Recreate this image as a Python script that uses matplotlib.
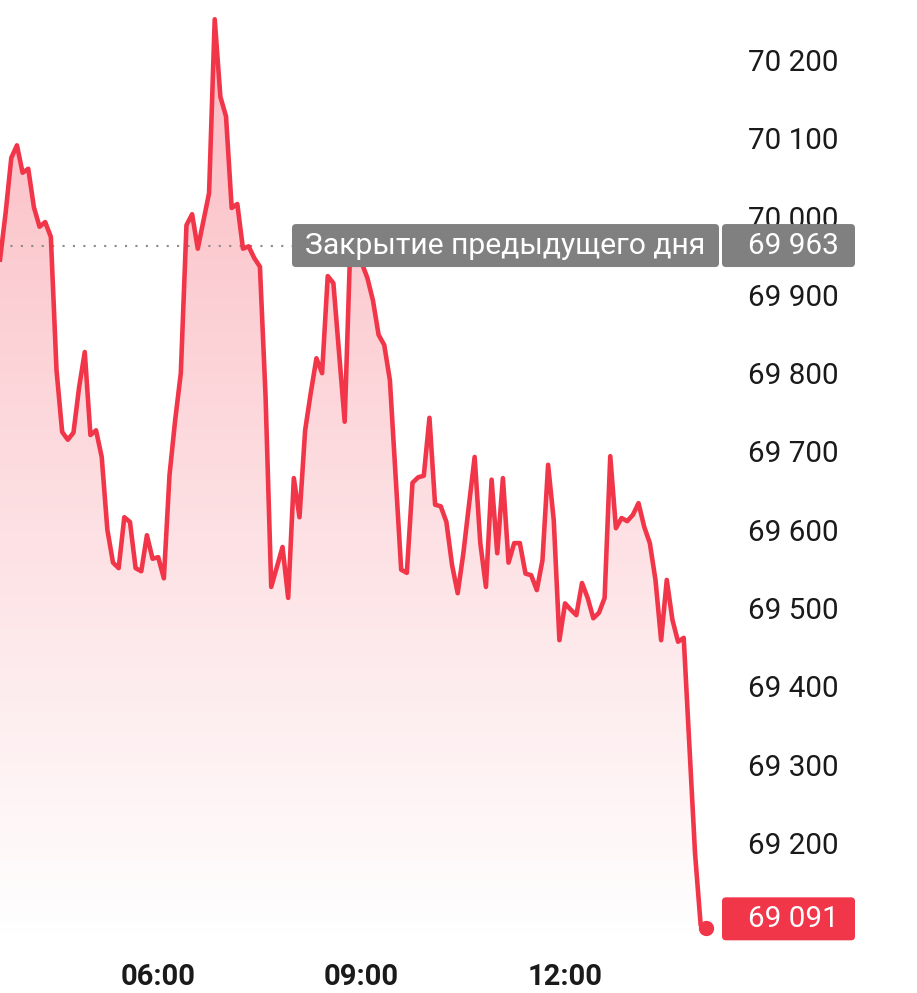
import numpy as np
import matplotlib
matplotlib.use('Agg')
import matplotlib.pyplot as plt
from matplotlib.patches import FancyBboxPatch
from matplotlib.transforms import IdentityTransform

plt.rcParams['font.family'] = ['Roboto', 'DejaVu Sans']

# intraday quotes, 5 min step
times = ['03:40', '03:45', '03:50', '03:55', '04:00', '04:05', '04:10', '04:15', '04:20', '04:25',
         '04:30', '04:35', '04:40', '04:45', '04:50', '04:55', '05:00', '05:05', '05:10', '05:15',
         '05:20', '05:25', '05:30', '05:35', '05:40', '05:45', '05:50', '05:55', '06:00', '06:05',
         '06:10', '06:15', '06:20', '06:25', '06:30', '06:35', '06:45', '06:50', '06:55', '07:00',
         '07:05', '07:10', '07:15', '07:20', '07:25', '07:30', '07:35', '07:40', '07:50', '07:55',
         '08:00', '08:05', '08:10', '08:15', '08:20', '08:25', '08:30', '08:35', '08:45', '08:50',
         '09:00', '09:05', '09:10', '09:15', '09:20', '09:25', '09:35', '09:40', '09:45', '09:50',
         '09:55', '10:00', '10:05', '10:10', '10:15', '10:20', '10:25', '10:30', '10:35', '10:40',
         '10:45', '10:50', '10:55', '11:00', '11:05', '11:10', '11:15', '11:20', '11:25', '11:30',
         '11:35', '11:40', '11:45', '11:50', '11:55', '12:00', '12:05', '12:10', '12:15', '12:20',
         '12:25', '12:30', '12:35', '12:40', '12:45', '12:50', '12:55', '13:00', '13:05', '13:10',
         '13:15', '13:20', '13:25', '13:30', '13:35', '13:40', '13:45', '13:55', '14:00', '14:05']
prices = [69945, 70005, 70075, 70091, 70056, 70061, 70012, 69987, 69993, 69974,
          69804, 69725, 69715, 69724, 69782, 69827, 69721, 69727, 69693, 69600,
          69558, 69551, 69616, 69610, 69551, 69547, 69593, 69563, 69565, 69538,
          69670, 69740, 69800, 69989, 70003, 69959, 70030, 70252, 70153, 70128,
          70011, 70016, 69959, 69962, 69947, 69936, 69770, 69527, 69578, 69513,
          69666, 69616, 69727, 69775, 69819, 69800, 69924, 69915, 69738, 69965,
          69941, 69922, 69893, 69849, 69836, 69791, 69549, 69545, 69660, 69667,
          69669, 69743, 69632, 69630, 69610, 69555, 69519, 69570, 69632, 69693,
          69583, 69527, 69664, 69570, 69666, 69558, 69583, 69583, 69544, 69542,
          69523, 69561, 69683, 69612, 69459, 69506, 69498, 69491, 69532, 69513,
          69487, 69494, 69513, 69694, 69602, 69615, 69611, 69619, 69634, 69604,
          69583, 69536, 69459, 69536, 69485, 69457, 69462, 69187, 69095, 69091]
prev_close = 69963
last_price = 69091
close_label = 'Закрытие предыдущего дня'
ytick_vals = [69200, 69300, 69400, 69500, 69600, 69700, 69800, 69900, 70000, 70100, 70200]
xtick_hours = [6, 9, 12]

red = '#f2364a'
grey = '#808080'
W, H = 917, 993


def to_hours(s):
    h, m = s.split(':')
    return int(h) + int(m) / 60


def fmt(v):
    return f'{v:,}'.replace(',', ' ')


x = np.array([to_hours(t) for t in times])
y = np.array(prices, dtype=float)

fig = plt.figure(figsize=(W / 100, H / 100), dpi=100)
ax = fig.add_axes([0, 48 / H, 720 / W, 945 / H])
ax.set_xlim(3.6667, 14.285)
ax.set_ylim(69069.7, 70276.6)
for s in ax.spines.values():
    s.set_visible(False)

# gradient fill under the line
poly = ax.fill_between(x, y, ax.get_ylim()[0], facecolor='none', edgecolor='none')
grad = np.zeros((256, 1, 4))
grad[:, 0, :3] = matplotlib.colors.to_rgb(red)
grad[:, 0, 3] = np.linspace(0.35, 0.0, 256)
im = ax.imshow(grad, extent=[*ax.get_xlim(), *ax.get_ylim()], aspect='auto',
               origin='upper', zorder=1)
im.set_clip_path(poly.get_paths()[0], transform=ax.transData)

ax.plot(x, y, color=red, lw=3.3, solid_joinstyle='round', zorder=3)
ax.plot(x[-1], y[-1], 'o', color=red, ms=10, zorder=4)

# previous close dotted line
ax.plot([ax.get_xlim()[0], 8.0], [prev_close, prev_close], color='#8a8a8a',
        lw=1.5, ls=(0, (1, 4)), zorder=2)

ax.yaxis.tick_right()
ax.set_yticks(ytick_vals)
ax.set_yticklabels([fmt(v) for v in ytick_vals])
ax.set_xticks(xtick_hours)
ax.set_xticklabels([f'{h:02d}:00' for h in xtick_hours], fontweight='bold')
ax.tick_params(axis='y', length=0, pad=20, labelsize=21.3, labelcolor='#1a1a1a')
ax.tick_params(axis='x', length=0, pad=13, labelsize=21, labelcolor='#1a1a1a')

# label boxes (pixel layout)
yc = ax.transData.transform((x[0], prev_close))[1]
yl = ax.transData.transform((x[-1], last_price))[1] + 9.5
box_h = 43
for x0, x1, yy, col in [(292, 719, yc, grey), (722, 855, yc, grey), (722, 855, yl, red)]:
    p = FancyBboxPatch((x0, yy - box_h / 2), x1 - x0, box_h,
                       boxstyle='round,pad=0,rounding_size=4',
                       facecolor=col, edgecolor='none', transform=IdentityTransform(), zorder=5)
    fig.add_artist(p)
fig.text(305, yc, close_label, color='white', fontsize=21.7, va='center', ha='left',
         transform=IdentityTransform(), zorder=6)
fig.text(748, yc, fmt(prev_close), color='white', fontsize=21.3, va='center', ha='left',
         transform=IdentityTransform(), zorder=6)
fig.text(748, yl, fmt(last_price), color='white', fontsize=21.3, va='center', ha='left',
         transform=IdentityTransform(), zorder=6)

fig.savefig('out.png', dpi=100)
